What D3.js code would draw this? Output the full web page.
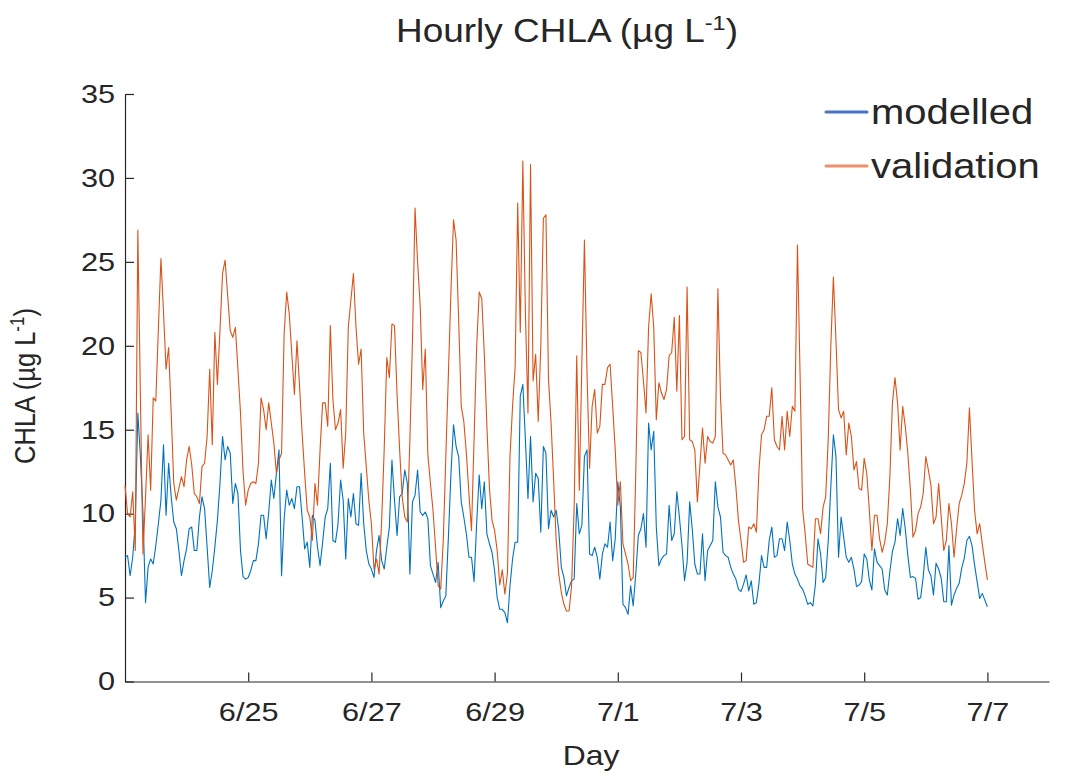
<!DOCTYPE html>
<html>
<head>
<meta charset="utf-8">
<script src="https://cdn.jsdelivr.net/npm/d3@7/dist/d3.min.js"></script>
<style>
  body { margin: 0; background: #fff; }
  text { font-family: "Liberation Sans", Arial, sans-serif; fill: #262626; }
</style>
</head>
<body>
<script>
// Hourly series, first value at 6/23 00:00
const startTime = "2020-06-23T00:00";
const endTime = "2020-07-08T00:00";
const tickLabels = ["6/25", "6/27", "6/29", "7/1", "7/3", "7/5", "7/7"];
const yTicks = [0, 5, 10, 15, 20, 25, 30, 35];
const seriesNames = ["modelled", "validation"];

const modelled = [
  7.4, 7.5, 6.3, 7.4, 9.4, 16.0, 13.4, 10.0, 4.7, 6.8,
  7.3, 7.0, 8.1, 9.4, 10.8, 14.1, 9.9, 13.0, 11.0, 9.5,
  9.1, 7.8, 6.3, 7.2, 7.9, 9.1, 9.2, 7.8, 7.8, 9.8,
  11.0, 10.3, 8.0, 5.6, 6.6, 8.0, 9.6, 11.8, 14.6, 13.2,
  14.0, 13.6, 10.6, 11.8, 11.2, 7.8, 6.25, 6.1, 6.2, 6.6,
  7.2, 7.2, 8.2, 9.9, 9.9, 8.5, 10.1, 12.0, 10.9, 12.4,
  13.8, 6.3, 9.7, 11.4, 10.5, 10.9, 10.3, 11.6, 11.6, 9.8,
  7.9, 8.3, 6.8, 9.9, 9.6, 8.0, 6.9, 8.3, 9.8, 10.3,
  13.0, 8.4, 8.3, 9.4, 12.0, 10.8, 7.3, 10.9, 9.8, 11.2,
  9.4, 9.3, 12.4, 9.4, 7.8, 7.0, 6.7, 6.2, 7.8, 8.7,
  7.2, 6.7, 8.0, 9.2, 13.2, 10.8, 8.7, 11.0, 11.2, 12.6,
  11.8, 6.4, 10.7, 11.1, 12.6, 10.1, 9.9, 10.1, 9.7, 6.9,
  6.4, 5.9, 7.1, 4.4, 4.8, 5.1, 8.6, 12.4, 15.3, 14.0,
  13.4, 10.7, 9.8, 8.8, 7.4, 7.4, 5.95, 9.4, 12.3, 10.3,
  11.9, 8.8, 8.2, 7.7, 6.6, 5.0, 4.3, 4.3, 4.1, 3.5,
  5.7, 7.3, 8.3, 8.3, 17.0, 17.7, 14.4, 10.9, 14.6, 10.7,
  12.4, 12.1, 8.9, 14.0, 13.6, 9.1, 10.2, 9.8, 10.2, 9.0,
  6.8, 6.2, 5.1, 5.6, 6.0, 6.1, 10.6, 8.8, 9.3, 13.4,
  13.8, 7.6, 7.5, 8.0, 7.4, 6.1, 7.6, 8.2, 8.0, 9.5,
  7.2, 8.5, 11.9, 10.4, 4.6, 4.4, 4.0, 5.7, 4.5, 6.4,
  8.7, 9.1, 10.0, 8.0, 15.4, 13.8, 14.9, 9.2, 6.9, 7.3,
  7.5, 7.6, 10.5, 8.4, 8.8, 11.3, 9.8, 8.1, 6.0, 7.1,
  10.7, 9.1, 7.0, 6.4, 6.4, 8.8, 6.0, 7.8, 8.1, 8.4,
  11.9, 10.4, 9.8, 7.7, 7.5, 7.4, 6.8, 6.4, 6.1, 5.5,
  5.35, 5.8, 6.35, 5.4, 6.0, 4.6, 4.7, 5.85, 7.5, 6.8,
  6.8, 8.4, 9.2, 7.4, 7.5, 8.5, 8.5, 7.8, 9.5, 8.4,
  7.0, 6.4, 6.1, 5.7, 5.5, 5.1, 4.6, 4.7, 4.5, 5.8,
  8.5, 7.6, 5.9, 6.2, 8.4, 11.6, 14.7, 13.4, 7.4, 9.8,
  8.6, 7.4, 7.1, 7.4, 6.7, 5.65, 5.75, 5.95, 7.6, 7.3,
  6.05, 5.45, 7.9, 7.1, 6.9, 6.7, 5.45, 5.15, 6.55, 7.75,
  8.3, 9.7, 8.7, 10.3, 9.1, 7.5, 6.2, 6.25, 6.15, 4.9,
  5.0, 6.25, 8.0, 6.65, 6.3, 5.15, 7.05, 6.7, 6.15, 4.75,
  4.75, 8.1, 4.55, 5.15, 5.55, 5.85, 6.75, 7.35, 8.4, 8.65,
  8.1, 6.95, 5.95, 4.95, 5.25, 4.85, 4.45
];

const validation = [
  11.7, 10.0, 9.8, 11.3, 7.8, 26.9, 17.0, 7.6, 11.0, 14.7,
  11.4, 16.9, 16.7, 21.0, 25.2, 22.0, 18.6, 19.9, 16.0, 11.8,
  10.8, 11.5, 12.2, 11.6, 13.2, 14.0, 12.9, 11.2, 11.0, 10.6,
  12.8, 13.0, 14.6, 18.6, 14.1, 20.8, 17.7, 20.9, 24.3, 25.1,
  23.0, 20.9, 20.5, 21.1, 18.6, 16.0, 12.5, 10.5, 11.4, 11.8,
  11.9, 11.8, 13.0, 16.9, 16.2, 15.0, 16.6, 15.4, 14.2, 12.4,
  13.2, 13.6, 20.7, 23.2, 21.9, 19.5, 17.1, 20.3, 17.6, 14.8,
  12.4, 10.2, 9.8, 8.4, 11.8, 10.5, 13.8, 16.6, 16.6, 15.2,
  21.2, 16.8, 15.0, 15.4, 16.2, 12.7, 14.8, 21.1, 22.7, 24.3,
  21.1, 18.9, 19.8, 14.8, 12.8, 10.8, 9.4, 6.7, 7.3, 6.4,
  9.6, 13.9, 19.3, 18.1, 21.3, 21.2, 17.1, 13.8, 11.0, 9.8,
  9.5, 14.4, 20.3, 28.2, 25.0, 22.4, 17.4, 19.8, 13.5, 11.8,
  10.2, 8.0, 5.7, 5.5, 8.4, 13.4, 18.3, 23.3, 27.5, 26.3,
  21.5, 16.4, 15.5, 13.6, 11.2, 9.0, 14.4, 19.9, 23.2, 22.8,
  19.5, 15.2, 11.5, 9.6, 9.0, 7.8, 5.75, 6.65, 5.2, 6.45,
  13.4, 16.4, 18.75, 28.5, 20.8, 31.0, 22.0, 16.0, 30.8, 17.9,
  19.5, 15.5, 20.0, 27.6, 27.8, 18.0, 15.4, 12.0, 8.4, 6.4,
  5.3, 4.6, 4.2, 4.2, 5.7, 10.4, 19.4, 11.4, 19.0, 26.3,
  18.4, 12.7, 16.4, 17.4, 14.8, 15.2, 17.7, 17.7, 18.7, 18.9,
  16.4, 13.8, 10.5, 11.9, 8.2, 7.6, 7.0, 6.0, 6.2, 12.4,
  19.7, 19.6, 17.9, 16.0, 21.1, 23.1, 21.1, 15.6, 17.8, 17.2,
  16.8, 17.4, 19.4, 19.6, 21.7, 17.3, 21.8, 14.4, 14.6, 23.5,
  14.4, 14.3, 13.8, 10.7, 12.9, 15.1, 13.0, 14.6, 14.3, 14.2,
  14.6, 23.4, 17.0, 13.6, 13.5, 13.2, 12.9, 13.2, 11.6, 9.6,
  8.4, 7.1, 7.2, 9.2, 9.1, 9.4, 8.9, 12.6, 14.7, 15.0,
  15.8, 15.8, 17.5, 14.4, 14.0, 13.8, 15.8, 13.8, 16.1, 14.6,
  16.4, 16.1, 26.0, 18.4, 10.3, 8.8, 7.0, 6.9, 6.8, 9.7,
  9.7, 8.8, 10.4, 11.0, 14.5, 20.0, 24.1, 20.3, 16.2, 15.7,
  16.1, 13.5, 15.4, 14.6, 12.6, 13.1, 11.5, 11.4, 13.3, 12.4,
  10.2, 7.8, 9.9, 9.9, 8.5, 7.7, 8.3, 9.4, 12.2, 16.6,
  18.1, 16.6, 13.8, 16.4, 15.2, 13.6, 11.4, 8.6, 9.0, 10.0,
  10.4, 11.2, 13.4, 12.6, 11.7, 9.4, 9.8, 11.8, 9.8, 7.8,
  8.4, 10.6, 9.4, 7.4, 9.1, 10.6, 11.1, 11.8, 13.0, 16.3,
  13.2, 10.2, 8.8, 9.4, 8.2, 7.1, 6.05
];

// Canvas
const canvWidth = 1065, canvHeight = 779;
const svg = d3.select("body").append("svg")
    .attr("width", canvWidth)
    .attr("height", canvHeight);

// plot box (the picture is stretched a bit sideways, so text gets scaleX)
const plotLeft = 125, plotRight = 1049, plotTop = 94, plotBottom = 681.5;
const sx = 1.18;
const axisColor = "#262626";
const lineColors = ["#0072BD", "#D95319"];
const legendColors = ["#4872C6", "#EE9068"];

const parseTime = d3.timeParse("%Y-%m-%dT%H:%M");
const parseTick = d3.timeParse("%Y/%m/%d");
const t0 = parseTime(startTime);

const xScale = d3.scaleTime()
    .domain([t0, parseTime(endTime)])
    .range([plotLeft, plotRight]);
const yScale = d3.scaleLinear()
    .domain([0, 35])
    .range([plotBottom, plotTop]);

const tickDates = tickLabels.map(s => parseTick("2020/" + s));

// x axis, ticks pointing inwards
const xAxisG = svg.append("g")
    .attr("transform", "translate(0," + plotBottom + ")")
    .call(d3.axisBottom(xScale)
        .tickValues(tickDates)
        .tickFormat((d, i) => tickLabels[i])
        .tickSizeInner(-9)
        .tickSizeOuter(0)
        .tickPadding(21));

// y axis
const yAxisG = svg.append("g")
    .attr("transform", "translate(" + plotLeft + ",0)")
    .call(d3.axisLeft(yScale)
        .tickValues(yTicks)
        .tickSizeInner(-9)
        .tickSizeOuter(0)
        .tickPadding(10));

[xAxisG, yAxisG].forEach(g => {
    g.select(".domain").attr("stroke", axisColor).attr("stroke-width", 1.2);
    g.selectAll(".tick line").attr("stroke", axisColor).attr("stroke-width", 1.2);
    g.selectAll(".tick text")
        .attr("fill", axisColor)
        .attr("font-size", "26px")
        .attr("font-family", "Liberation Sans, Arial, sans-serif")
        .attr("transform", "scale(" + sx + ",1)");
});
yAxisG.selectAll(".tick text").attr("x", -10 / sx);

// lines
const line = d3.line()
    .x((d, i) => xScale(d3.timeHour.offset(t0, i)))
    .y(d => yScale(d));

[modelled, validation].forEach((series, k) => {
    svg.append("path")
        .datum(series)
        .attr("fill", "none")
        .attr("stroke", lineColors[k])
        .attr("stroke-width", 1.1)
        .attr("stroke-linejoin", "round")
        .attr("d", line);
});

// helper for stretched text
function label(x, y, size, anchor, rot, scaleX) {
    const s = scaleX || sx;
    return svg.append("text")
        .attr("transform", "translate(" + x + "," + y + ") scale(" + s + ",1)" + (rot ? " rotate(" + rot + ")" : ""))
        .attr("font-size", size + "px")
        .style("text-anchor", anchor);
}

// title
const title = label(567, 42, 33, "middle", 0, 1.12);
title.append("tspan").text("Hourly CHLA (µg L");
title.append("tspan").attr("font-size", "21px").attr("dy", "-12").text("-1");
title.append("tspan").attr("dy", "12").text(")");

// y label
const yLab = label(35, 386, 25.5, "middle", -90);
yLab.append("tspan").text("CHLA (µg L");
yLab.append("tspan").attr("font-size", "17px").attr("dy", "-9").text("-1");
yLab.append("tspan").attr("dy", "9").text(")");

// x label
label(591, 765, 27, "middle").text("Day");

// legend
const legendY = [112, 166];
seriesNames.forEach((name, k) => {
    svg.append("line")
        .attr("x1", 826).attr("x2", 867)
        .attr("y1", legendY[k]).attr("y2", legendY[k])
        .attr("stroke", legendColors[k])
        .attr("stroke-width", 3)
        .attr("stroke-linecap", "round");
    label(871, legendY[k] + 12, 36, "start", 0, 1.11).attr("fill", "#111").text(name);
});
</script>
</body>
</html>
